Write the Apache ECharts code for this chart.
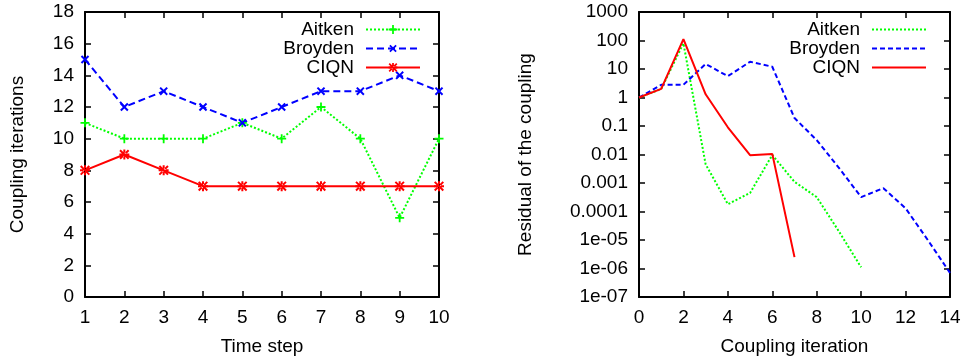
<!DOCTYPE html>
<html>
<head>
<meta charset="utf-8">
<script src="https://cdn.jsdelivr.net/npm/echarts@6/dist/echarts.min.js"></script>
<style>
  html, body { margin: 0; padding: 0; background: #fff; }
  #left, #right { position: absolute; top: 0; width: 482px; height: 361px; }
  #left { left: 0; }
  #right { left: 482px; }
</style>
</head>
<body>
<div id="left"></div>
<div id="right"></div>
<script>
// left chart: coupling iterations per time step
var timeSteps = [1, 2, 3, 4, 5, 6, 7, 8, 9, 10];
var aitkenIters = [11, 10, 10, 10, 11, 10, 12, 10, 5, 10];
var broydenIters = [15, 12, 13, 12, 11, 12, 13, 13, 14, 13];
var ciqnIters = [8, 9, 8, 7, 7, 7, 7, 7, 7, 7];

// right chart: residual per coupling iteration (index = iteration)
var aitkenResidual = [1, 2, 80, 0.0045, 0.00018, 0.00045, 0.0096, 0.0011, 0.00032, 0.00002, 0.0000011];
var broydenResidual = [1, 2.8, 2.8, 15, 5.6, 18, 12, 0.19, 0.032, 0.0034, 0.00032, 0.00066, 0.00013, 0.00001, 0.0000007];
var ciqnResidual = [1, 2, 112, 1.3, 0.09, 0.0095, 0.0105, 0.0000025];
var logTickLabels = ['1e-07', '1e-06', '1e-05', '0.0001', '0.001', '0.01', '0.1', '1', '10', '100', '1000'];

var names = ['Aitken', 'Broyden', 'CIQN'];
var colors = ['#00ff00', '#0000ff', '#ff0000'];
var font = 'Liberation Sans, Arial, Helvetica, sans-serif';

var plusPath = 'path://M4,0h2v4h4v2h-4v4h-2v-4h-4v-2h4z';
var starPath = 'path://M4,0h2v4h4v2h-4v4h-2v-4h-4v-2h4zM0,1.4L1.4,0L10,8.6L8.6,10ZM10,1.4L8.6,0L0,8.6L1.4,10Z';

function toPairs(xs, ys) {
  return ys.map(function (v, i) { return [xs ? xs[i] : i, v]; });
}

function axisBase(show) {
  return {
    axisLine: {show: true, onZero: false, lineStyle: {color: '#000', width: 2}},
    axisTick: {show: true, inside: true, length: 6, lineStyle: {color: '#000', width: 1.5}},
    axisLabel: {show: show, color: '#000', fontSize: 19, fontFamily: font, margin: 11},
    splitLine: {show: false},
    minorTick: {show: false}
  };
}

function legends(right, hideSymbol) {
  var tops = [20, 39, 58];
  return names.map(function (n, i) {
    var l = {
      data: [n],
      right: right,
      top: tops[i],
      align: 'right',
      orient: 'vertical',
      padding: 0,
      itemWidth: 54,
      itemHeight: 11,
      textStyle: {color: '#000', fontSize: 19, fontFamily: font, padding: [0, 7, 0, 0]}
    };
    if (hideSymbol) l.itemStyle = {opacity: 0};
    return l;
  });
}

var nameStyle = {color: '#000', fontSize: 19, fontFamily: font};

// left chart
var xB = axisBase(true), xT = axisBase(false), yL = axisBase(true), yR = axisBase(false);
var optionLeft = {
  animation: false,
  legend: legends(61, false),
  grid: {left: 85, right: 43, top: 12, bottom: 64},
  xAxis: [
    Object.assign(xB, {type: 'value', min: 1, max: 10, interval: 1, position: 'bottom',
      name: 'Time step', nameLocation: 'middle', nameGap: 40, nameTextStyle: nameStyle}),
    Object.assign(xT, {type: 'value', min: 1, max: 10, interval: 1, position: 'top'})
  ],
  yAxis: [
    Object.assign(yL, {type: 'value', min: 0, max: 18, interval: 2, position: 'left',
      name: 'Coupling iterations', nameLocation: 'middle', nameGap: 58, nameTextStyle: nameStyle}),
    Object.assign(yR, {type: 'value', min: 0, max: 18, interval: 2, position: 'right'})
  ],
  series: [
    {name: 'Aitken', type: 'line', data: toPairs(timeSteps, aitkenIters),
      symbol: plusPath, symbolSize: 9, showAllSymbol: true,
      itemStyle: {color: colors[0]}, lineStyle: {color: colors[0], width: 2, type: [2, 2]}},
    {name: 'Broyden', type: 'line', data: toPairs(timeSteps, broydenIters),
      symbol: plusPath, symbolRotate: 45, symbolSize: 10, showAllSymbol: true,
      itemStyle: {color: colors[1]}, lineStyle: {color: colors[1], width: 2, type: [7, 4]}},
    {name: 'CIQN', type: 'line', data: toPairs(timeSteps, ciqnIters),
      symbol: starPath, symbolSize: 10, showAllSymbol: true,
      itemStyle: {color: colors[2]}, lineStyle: {color: colors[2], width: 2}}
  ]
};

// right chart
var xB2 = axisBase(true), xT2 = axisBase(false), yL2 = axisBase(true), yR2 = axisBase(false);
var logLabel = function (v) {
  return logTickLabels[Math.round(Math.log10(v)) + 7];
};
var optionRight = {
  animation: false,
  legend: legends(37, true),
  grid: {left: 157, right: 14, top: 12, bottom: 64},
  xAxis: [
    Object.assign(xB2, {type: 'value', min: 0, max: 14, interval: 2, position: 'bottom',
      name: 'Coupling iteration', nameLocation: 'middle', nameGap: 40, nameTextStyle: nameStyle}),
    Object.assign(xT2, {type: 'value', min: 0, max: 14, interval: 2, position: 'top'})
  ],
  yAxis: [
    Object.assign(yL2, {type: 'log', logBase: 10, min: 1e-7, max: 1000, interval: 1, splitNumber: 10, position: 'left',
      name: 'Residual of the coupling', nameLocation: 'middle', nameGap: 104, nameTextStyle: nameStyle}),
    Object.assign(yR2, {type: 'log', logBase: 10, min: 1e-7, max: 1000, interval: 1, splitNumber: 10, position: 'right'})
  ],
  series: [
    {name: 'Aitken', type: 'line', data: toPairs(null, aitkenResidual), symbol: 'none',
      lineStyle: {color: colors[0], width: 2, type: [2, 2]}, itemStyle: {color: colors[0]}},
    {name: 'Broyden', type: 'line', data: toPairs(null, broydenResidual), symbol: 'none',
      lineStyle: {color: colors[1], width: 2, type: [5, 3]}, itemStyle: {color: colors[1]}},
    {name: 'CIQN', type: 'line', data: toPairs(null, ciqnResidual), symbol: 'none',
      lineStyle: {color: colors[2], width: 2}, itemStyle: {color: colors[2]}}
  ]
};
optionRight.yAxis[0].axisLabel.formatter = logLabel;

echarts.init(document.getElementById('left')).setOption(optionLeft);
echarts.init(document.getElementById('right')).setOption(optionRight);
</script>
</body>
</html>
